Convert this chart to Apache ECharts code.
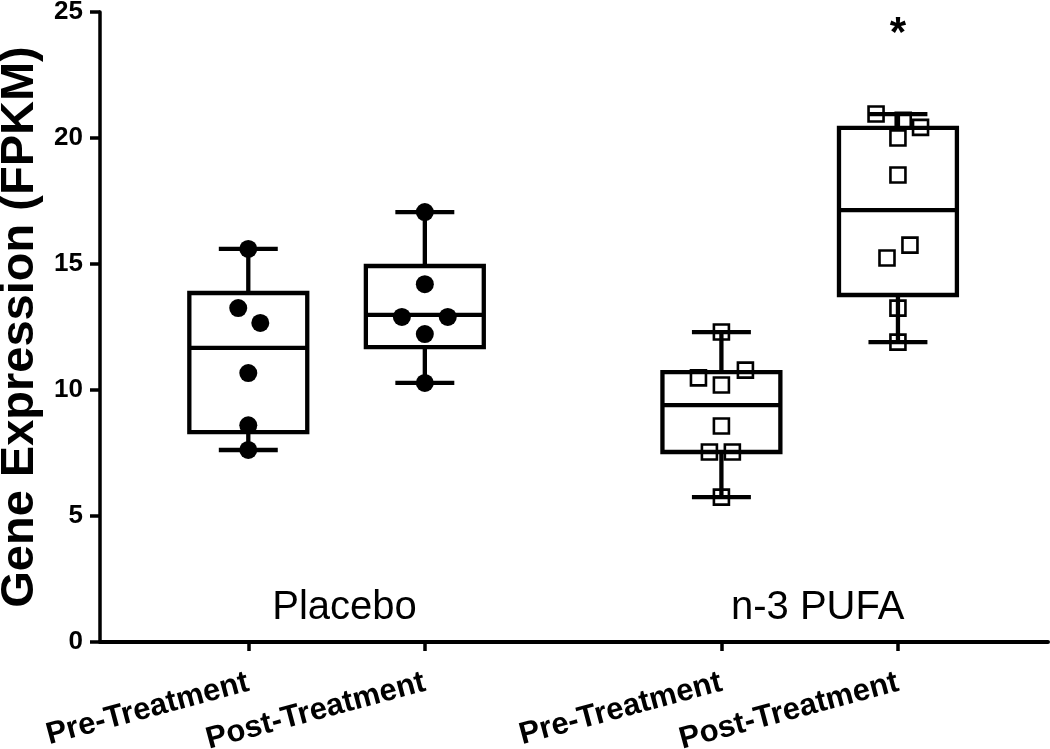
<!DOCTYPE html>
<html><head><meta charset="utf-8">
<script src="https://cdn.jsdelivr.net/npm/echarts@6/dist/echarts.min.js"></script>
<style>html,body{margin:0;padding:0;background:#fff}#chart{width:1050px;height:749px}</style>
</head><body><div id="chart"></div>
<script>
// ---- data ----
const groupNames = ['Placebo', 'n-3 PUFA'];
const categories = ['Pre-Treatment', 'Post-Treatment', 'Pre-Treatment', 'Post-Treatment'];
const xPositions = [1, 2, 3.68, 4.68];
const yTicks = [0, 5, 10, 15, 20, 25];

const boxMin    = [7.62, 10.28, 5.75, 11.9];
const boxQ1     = [8.33, 11.70, 7.54, 13.77];
const boxMedian = [11.67, 12.98, 9.40, 17.14];
const boxQ3     = [13.85, 14.92, 10.71, 20.40];
const boxMax    = [15.60, 17.06, 12.30, 20.95];

const placeboPre        = [15.6, 13.25, 12.66, 10.67, 8.6, 7.62];
const placeboPreJitter  = [0, -0.057, 0.068, 0, 0, 0];
const placeboPost       = [17.06, 14.2, 12.9, 12.9, 12.22, 10.28];
const placeboPostJitter = [0, 0, -0.13, 0.13, 0, 0];
const pufaPre           = [12.3, 10.79, 10.48, 10.2, 8.57, 7.54, 7.54, 5.75];
const pufaPreJitter     = [0, 0.136, -0.13, 0, 0, -0.068, 0.062, 0];
const pufaPost          = [20.95, 20.7, 20.42, 20.0, 18.53, 15.75, 15.24, 13.25, 11.9];
const pufaPostJitter    = [-0.124, 0.03, 0.128, 0, 0, 0.068, -0.062, 0, 0];

const significance = ['', '', '', '*'];

// ---- build ----
const FONT = "'Liberation Sans', Arial, Helvetica, sans-serif";
const boxData = xPositions.map((x, i) => [x, boxMin[i], boxQ1[i], boxMedian[i], boxQ3[i], boxMax[i]]);
function pts(vals, jit, xi) { return vals.map((v, i) => [xPositions[xi] + jit[i], v]); }

function renderBox(params, api) {
  const x = api.value(0);
  const pMin = api.coord([x, api.value(1)]);
  const pQ1 = api.coord([x, api.value(2)]);
  const pMed = api.coord([x, api.value(3)]);
  const pQ3 = api.coord([x, api.value(4)]);
  const pMax = api.coord([x, api.value(5)]);
  const halfBox = api.size([0.334, 0])[0];
  const halfCap = api.size([0.167, 0])[0];
  const cx = pMed[0];
  const st = () => ({ stroke: '#000', lineWidth: 4.3, fill: null });
  return {
    type: 'group',
    children: [
      { type: 'line', shape: { x1: cx, y1: pQ3[1], x2: cx, y2: pMax[1] }, style: st() },
      { type: 'line', shape: { x1: cx, y1: pQ1[1], x2: cx, y2: pMin[1] }, style: st() },
      { type: 'line', shape: { x1: cx - halfCap, y1: pMax[1], x2: cx + halfCap, y2: pMax[1] }, style: st() },
      { type: 'line', shape: { x1: cx - halfCap, y1: pMin[1], x2: cx + halfCap, y2: pMin[1] }, style: st() },
      { type: 'rect', shape: { x: cx - halfBox, y: pQ3[1], width: 2 * halfBox, height: pQ1[1] - pQ3[1] }, style: st() },
      { type: 'line', shape: { x1: cx - halfBox, y1: pMed[1], x2: cx + halfBox, y2: pMed[1] }, style: st() }
    ]
  };
}

const groupLabelData = [
  [(xPositions[0] + xPositions[1]) / 2, 1.36, groupNames[0]],
  [(xPositions[2] + xPositions[3]) / 2, 1.36, groupNames[1]]
];
const sigData = xPositions.map((x, i) => [x, 24.1, significance[i]]).filter(d => d[2]);

function renderText(fontSize, weight, dx) {
  return function (params, api) {
    const p = api.coord([api.value(0), api.value(1)]);
    return {
      type: 'text', x: p[0] + dx, y: p[1],
      style: { text: api.value(2), fill: '#000', font: weight + ' ' + fontSize + 'px ' + FONT, align: 'center', verticalAlign: 'middle' }
    };
  };
}

const chart = echarts.init(document.getElementById('chart'), null, { renderer: 'canvas' });
chart.setOption({
  backgroundColor: '#fff',
  animation: false,
  grid: { left: 100, right: 2, top: 12, bottom: 107, containLabel: false, outerBoundsMode: 'none' },
  xAxis: {
    type: 'value', min: 0.16, max: 5.53,
    splitLine: { show: false },
    axisLine: { show: true, onZero: false, lineStyle: { color: '#000', width: 4 } },
    axisTick: { show: true, customValues: xPositions, length: 9, lineStyle: { color: '#000', width: 3.5 } },
    axisLabel: {
      show: true, customValues: xPositions, rotate: 15, margin: 40,
      color: '#000', fontFamily: FONT, fontWeight: 'bold', fontSize: 31,
      formatter: function (v) {
        let best = 0;
        xPositions.forEach((p, i) => { if (Math.abs(p - v) < Math.abs(xPositions[best] - v)) best = i; });
        return categories[best];
      }
    }
  },
  yAxis: {
    type: 'value', min: yTicks[0], max: yTicks[yTicks.length - 1], interval: 5,
    name: 'Gene Expression (FPKM)', nameLocation: 'middle', nameGap: 49,
    nameTextStyle: { color: '#000', fontFamily: FONT, fontWeight: 'bold', fontSize: 47 },
    splitLine: { show: false },
    axisLine: { show: true, lineStyle: { color: '#000', width: 3.5 } },
    axisTick: { show: true, length: 10, lineStyle: { color: '#000', width: 3.5 } },
    axisLabel: { color: '#000', fontFamily: FONT, fontWeight: 'bold', fontSize: 26, margin: 17 }
  },
  series: [
    { type: 'custom', name: 'box', renderItem: renderBox, data: boxData, encode: { x: 0, y: [1, 2, 3, 4, 5] }, z: 2 },
    { type: 'scatter', name: 'Placebo Pre', data: pts(placeboPre, placeboPreJitter, 0), symbol: 'circle', symbolSize: 18, itemStyle: { color: '#000', opacity: 1 }, z: 3 },
    { type: 'scatter', name: 'Placebo Post', data: pts(placeboPost, placeboPostJitter, 1), symbol: 'circle', symbolSize: 18, itemStyle: { color: '#000', opacity: 1 }, z: 3 },
    { type: 'scatter', name: 'PUFA Pre', data: pts(pufaPre, pufaPreJitter, 2), symbol: 'rect', symbolSize: 15, itemStyle: { color: 'rgba(0,0,0,0)', borderColor: '#000', borderWidth: 2.6, opacity: 1 }, z: 3 },
    { type: 'scatter', name: 'PUFA Post', data: pts(pufaPost, pufaPostJitter, 3), symbol: 'rect', symbolSize: 15, itemStyle: { color: 'rgba(0,0,0,0)', borderColor: '#000', borderWidth: 2.6, opacity: 1 }, z: 3 },
    { type: 'custom', name: 'groups', renderItem: renderText(40, 'normal', 8), data: groupLabelData, encode: { x: 0, y: 1 }, z: 4 },
    { type: 'custom', name: 'sig', renderItem: renderText(42, 'bold', 0), data: sigData, encode: { x: 0, y: 1 }, z: 4 }
  ]
});
</script>
</body></html>
